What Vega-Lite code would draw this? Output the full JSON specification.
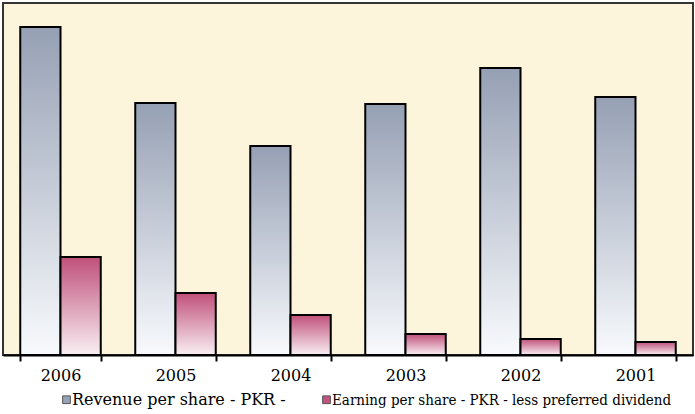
{
  "$schema": "https://vega.github.io/schema/vega-lite/v6.json",
  "width": 690,
  "height": 352,
  "autosize": {"type": "none"},
  "padding": {"left": 3, "top": 3, "right": 2, "bottom": 59},
  "background": "white",
  "data": {
    "values": [
      {"year": "2006", "series": "Revenue per share - PKR -", "value": 32.8},
      {"year": "2006", "series": "Earning per share - PKR - less preferred dividend", "value": 9.8},
      {"year": "2005", "series": "Revenue per share - PKR -", "value": 25.2},
      {"year": "2005", "series": "Earning per share - PKR - less preferred dividend", "value": 6.2},
      {"year": "2004", "series": "Revenue per share - PKR -", "value": 20.9},
      {"year": "2004", "series": "Earning per share - PKR - less preferred dividend", "value": 4.0},
      {"year": "2003", "series": "Revenue per share - PKR -", "value": 25.1},
      {"year": "2003", "series": "Earning per share - PKR - less preferred dividend", "value": 2.1},
      {"year": "2002", "series": "Revenue per share - PKR -", "value": 28.7},
      {"year": "2002", "series": "Earning per share - PKR - less preferred dividend", "value": 1.6},
      {"year": "2001", "series": "Revenue per share - PKR -", "value": 25.8},
      {"year": "2001", "series": "Earning per share - PKR - less preferred dividend", "value": 1.3}
    ]
  },
  "encoding": {
    "x": {
      "field": "year",
      "type": "nominal",
      "sort": null,
      "scale": {"paddingInner": 0.3, "paddingOuter": 0.15},
      "axis": {
        "title": null,
        "labelAngle": 0,
        "labelFont": "DejaVu Serif",
        "labelFontSize": 16,
        "labelColor": "black",
        "labelPadding": 6,
        "domainColor": "black",
        "domainWidth": 2,
        "tickColor": "black",
        "tickWidth": 2,
        "tickSize": 6,
        "tickBand": "extent",
        "grid": false
      }
    },
    "xOffset": {
      "field": "series",
      "type": "nominal",
      "sort": null,
      "scale": {"paddingInner": 0, "paddingOuter": 0}
    },
    "y": {
      "field": "value",
      "type": "quantitative",
      "scale": {"domain": [0, 35.2], "nice": false},
      "axis": null
    }
  },
  "layer": [
    {
      "mark": {"type": "bar", "opacity": 0},
      "encoding": {
        "color": {
          "field": "series",
          "type": "nominal",
          "sort": null,
          "scale": {"range": ["#98A2B6", "#C2557F"]},
          "legend": {
            "title": null,
            "orient": "none",
            "legendX": 56,
            "legendY": 389,
            "direction": "horizontal",
            "symbolType": "square",
            "symbolSize": 60,
            "symbolOpacity": 1,
            "symbolStrokeColor": "#555555",
            "symbolStrokeWidth": 1,
            "labelFont": "DejaVu Serif",
            "labelFontSize": 16,
            "labelColor": "black",
            "labelOffset": -2,
            "labelLimit": 0,
            "columnPadding": 33,
            "encode": {
              "labels": {
                "update": {
                  "font": {"signal": "datum.index === 0 ? 'DejaVu Serif' : 'DejaVu Serif Condensed, DejaVu Serif'"},
                  "fontSize": {"signal": "datum.index === 0 ? 16 : 15"}
                }
              }
            }
          }
        }
      }
    },
    {
      "mark": {"type": "bar", "stroke": "black", "strokeWidth": 2},
      "encoding": {
        "fill": {
          "condition": {
            "test": "datum.series === 'Revenue per share - PKR -'",
            "value": {
              "gradient": "linear", "x1": 0, "y1": 0, "x2": 0, "y2": 1,
              "stops": [
                {"offset": 0, "color": "#96A0B4"},
                {"offset": 1, "color": "#F8FAFD"}
              ]
            }
          },
          "value": {
            "gradient": "linear", "x1": 0, "y1": 0, "x2": 0, "y2": 1,
            "stops": [
              {"offset": 0, "color": "#C0507A"},
              {"offset": 1, "color": "#F9EFF3"}
            ]
          }
        }
      }
    }
  ],
  "config": {
    "view": {"fill": "#FCF5DC", "stroke": "#333333", "strokeWidth": 2},
    "font": "DejaVu Serif"
  }
}
